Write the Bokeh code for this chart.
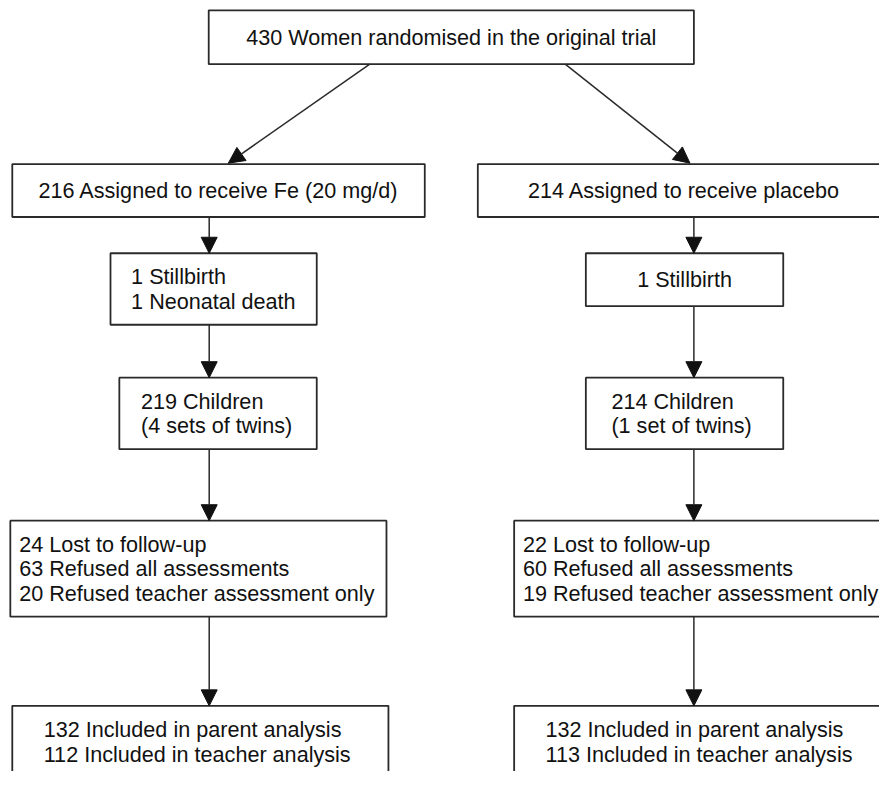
from bokeh.plotting import figure
from bokeh.models import Range1d, Arrow, NormalHead
from bokeh.core.properties import value
from bokeh.embed import file_html
from bokeh.resources import INLINE

# ---- data (flowchart texts and counts) ----
randomised = 430
fe_assigned = 216
placebo_assigned = 214
fe_losses = ["1 Stillbirth", "1 Neonatal death"]
placebo_losses = ["1 Stillbirth"]
fe_children = ["219 Children", "(4 sets of twins)"]
placebo_children = ["214 Children", "(1 set of twins)"]
fe_dropouts = ["24 Lost to follow-up", "63 Refused all assessments",
               "20 Refused teacher assessment only"]
placebo_dropouts = ["22 Lost to follow-up", "60 Refused all assessments",
                    "19 Refused teacher assessment only"]
fe_included = ["132 Included in parent analysis", "112 Included in teacher analysis"]
placebo_included = ["132 Included in parent analysis", "113 Included in teacher analysis"]

top_text = [f"{randomised} Women randomised in the original trial"]
fe_text = [f"{fe_assigned} Assigned to receive Fe (20 mg/d)"]
pl_text = [f"{placebo_assigned} Assigned to receive placebo"]

# ---- layout (reference-pixel data coordinates) ----
W, H = 879, 771
p = figure(width=W, height=H, output_backend="svg", toolbar_location=None,
           x_range=Range1d(0, 895), y_range=Range1d(787, 0),
           min_border=0, outline_line_color=None)
p.axis.visible = False
p.grid.visible = False

LINE = "#2a2a2a"
FONT = value("Liberation Sans")
FS = "21.6px"
LS = 25.0  # line spacing

# boxes: (lines, left, right, top, bottom, align, text_x)
boxes = [
    (top_text, 212, 706, 10, 65, "center", None),
    (fe_text, 12, 432, 167, 221, "center", None),
    (pl_text, 486, 906, 167, 221, "center", None),
    (fe_losses, 112, 322, 258, 331, "left", 133),
    (placebo_losses, 596, 797, 258, 312, "center", None),
    (fe_children, 121, 322, 385, 458, "left", 143),
    (placebo_children, 596, 797, 385, 458, "left", 622),
    (fe_dropouts, 10, 393, 531, 629, "left", 19),
    (placebo_dropouts, 523, 906, 531, 629, "left", 532),
    (fe_included, 12, 395, 720, 794, "left", 44),
    (placebo_included, 523, 906, 720, 794, "left", 555),
]

for lines, l, r, t, b, align, tx in boxes:
    p.quad(left=[l], right=[r], top=[t], bottom=[b], fill_color="white",
           line_color=LINE, line_width=1.8)
    cy = (t + b) / 2
    n = len(lines)
    ys = [cy + (i - (n - 1) / 2) * LS for i in range(n)]
    xs = [(l + r) / 2 if align == "center" else tx] * n
    p.text(x=xs, y=ys, text=lines, text_font=FONT, text_font_size=FS,
           text_align=align, text_baseline="middle", text_color="#111111")

# arrows
LX, RX = 212.5, 706
arrows = [
    (376, 65, 232, 166),
    (575, 65, 702, 166),
    (LX, 221, LX, 258), (RX, 221, RX, 258),
    (LX, 331, LX, 385), (RX, 312, RX, 385),
    (LX, 458, LX, 531), (RX, 458, RX, 531),
    (LX, 629, LX, 720), (RX, 629, RX, 720),
]
for x0, y0, x1, y1 in arrows:
    p.add_layout(Arrow(x_start=x0, y_start=y0, x_end=x1, y_end=y1,
                       line_color=LINE, line_width=1.5,
                       end=NormalHead(size=16, fill_color="#111111",
                                      line_color="#111111", line_width=1)))

open("out.html", "w").write(file_html(p, INLINE))
